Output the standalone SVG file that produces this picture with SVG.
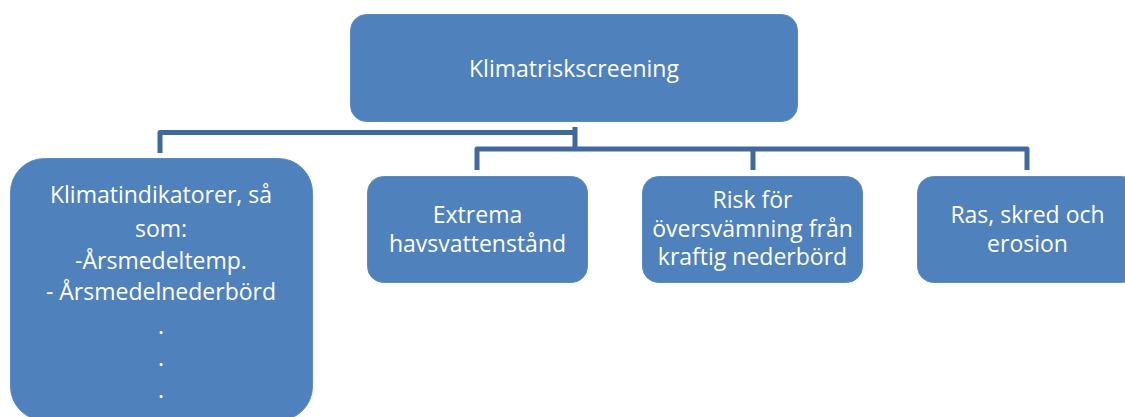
<svg xmlns="http://www.w3.org/2000/svg" width="1125" height="417" viewBox="0 0 1125 417">
<style>
.box{fill:#4F81BD;stroke:#5B8BC4;stroke-width:1}
.t{font-family:"Open Sans","Noto Sans",sans-serif;font-size:23px;fill:#FFFFFF;text-anchor:middle}
.c{fill:none;stroke:#41699B;stroke-width:5;stroke-linejoin:round}
</style>
<rect width="1125" height="417" fill="#FFFFFF"/>
<g id="connectors">
<path class="c" d="M160,153 V132.5 H575 M575,127 V149"/>
<path class="c" d="M477,170 V149 H1027 V170 M753,149 V170"/>
</g>
<g id="n-root">
<rect class="box" x="350.5" y="14.5" width="447" height="107" rx="16"/>
<text class="t" x="574" y="77">Klimatriskscreening</text>
</g>
<g id="n-klimatindikatorer">
<rect class="box" x="10.5" y="158.5" width="302" height="262" rx="34"/>
<text class="t" x="161" y="203">Klimatindikatorer, så</text>
<text class="t" x="161" y="237">som:</text>
<text class="t" x="161" y="269">-Årsmedeltemp.</text>
<text class="t" x="161" y="300">- Årsmedelnederbörd</text>
<text class="t" x="161" y="334">.</text>
<text class="t" x="161" y="366">.</text>
<text class="t" x="161" y="398">.</text>
</g>
<g id="n-extrema">
<rect class="box" x="367.5" y="176.5" width="220" height="106" rx="16"/>
<text class="t" x="477.5" y="223">Extrema</text>
<text class="t" x="477.5" y="252">havsvattenstånd</text>
</g>
<g id="n-risk">
<rect class="box" x="642.5" y="176.5" width="220" height="106" rx="16"/>
<text class="t" x="752.5" y="208">Risk för</text>
<text class="t" x="752.5" y="237">översvämning från</text>
<text class="t" x="752.5" y="265">kraftig nederbörd</text>
</g>
<g id="n-ras">
<rect class="box" x="917.5" y="176.5" width="220" height="106" rx="16"/>
<text class="t" x="1027.5" y="223">Ras, skred och</text>
<text class="t" x="1027.5" y="252">erosion</text>
</g>
</svg>
